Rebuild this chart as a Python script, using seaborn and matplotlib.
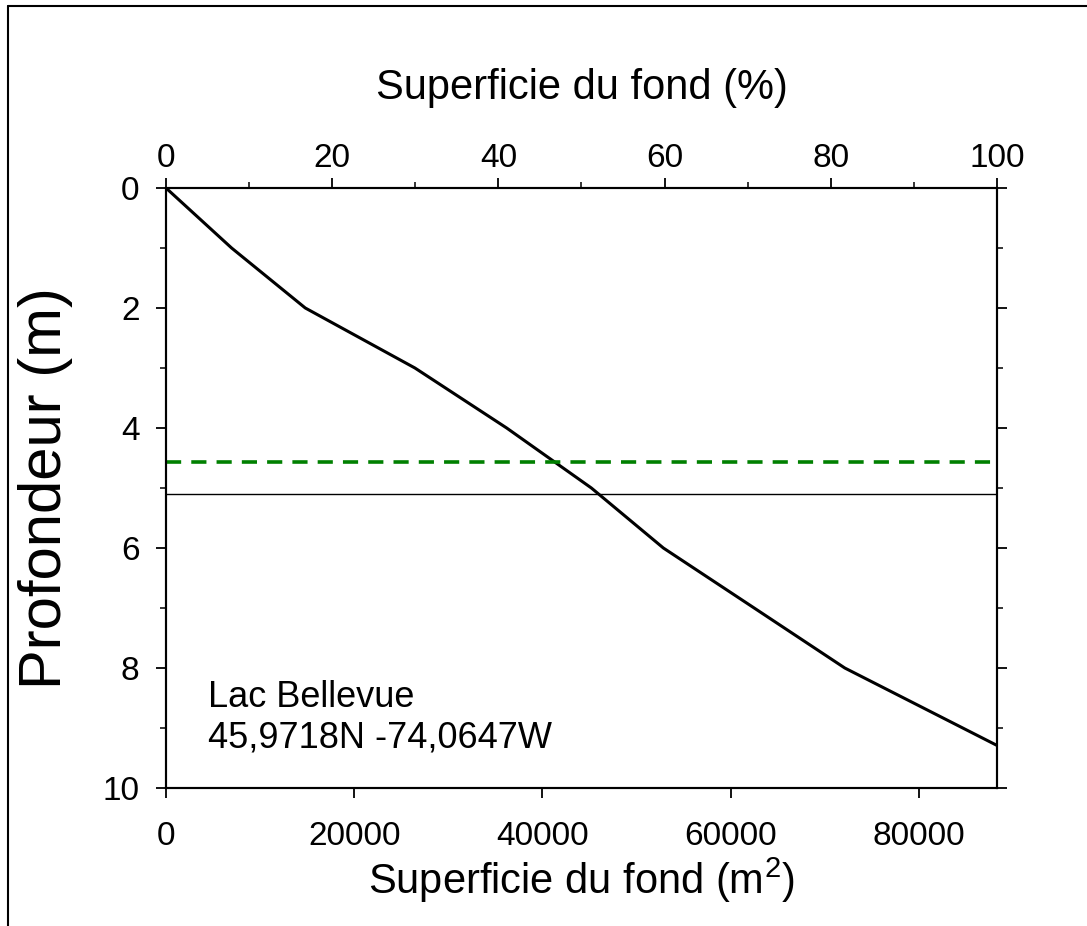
import matplotlib
matplotlib.use("Agg")
import matplotlib.pyplot as plt
from matplotlib.lines import Line2D
from matplotlib.ticker import MultipleLocator
import pandas as pd
import seaborn as sns

# profil hypsometrique du lac
superficie_m2 = [0, 6970, 14800, 26450, 36200, 45200, 52850, 62500, 72130, 88300]
profondeur_m = [0, 1, 2, 3, 4, 5, 6, 7, 8, 9.29]
superficie_max = 88300

ligne_verte = 4.57
ligne_noire = 5.1

lac_nom = "Lac Bellevue"
lac_coord = "45,9718N -74,0647W"

df = pd.DataFrame({"superficie": superficie_m2, "profondeur": profondeur_m})

sns.set_style("ticks")
plt.rcParams["font.family"] = ["Liberation Sans", "DejaVu Sans"]
plt.rcParams["mathtext.fontset"] = "custom"
plt.rcParams["mathtext.rm"] = "Liberation Sans"
for k in ["text.color", "axes.labelcolor", "xtick.color", "ytick.color", "axes.edgecolor"]:
    plt.rcParams[k] = "black"

fig = plt.figure(figsize=(10.87, 9.26), dpi=100)
ax = fig.add_axes([0.1527, 0.149, 0.7645, 0.648])

sns.lineplot(data=df, x="superficie", y="profondeur", color="black",
             linewidth=2.2, ax=ax, sort=False)
ax.axhline(ligne_verte, color="#008000", linewidth=2.6, linestyle=(0, (4.2, 2.8)))
ax.axhline(ligne_noire, color="black", linewidth=1.0)

ax.set_xlim(0, superficie_max)
ax.set_ylim(10, 0)
ax.xaxis.set_major_locator(MultipleLocator(20000))
ax.yaxis.set_major_locator(MultipleLocator(2))
ax.yaxis.set_minor_locator(MultipleLocator(1))
ax.tick_params(axis="both", which="major", labelsize=24, length=7, width=1.3,
               direction="out")
ax.tick_params(axis="y", which="minor", length=4.3, width=1.1, direction="out")
ax.tick_params(axis="x", pad=17)
ax.tick_params(axis="y", pad=12, right=True, which="both")

for s in ax.spines.values():
    s.set_linewidth(1.5)

ax.set_xlabel("Superficie du fond (m$^2$)", fontsize=30, labelpad=2)
ax.set_ylabel("Profondeur (m)", fontsize=43, labelpad=21)

ax2 = ax.twiny()
ax2.set_xlim(0, 100)
ax2.xaxis.set_major_locator(MultipleLocator(20))
ax2.xaxis.set_minor_locator(MultipleLocator(10))
ax2.tick_params(axis="x", which="major", labelsize=24, length=7, width=1.3, pad=3)
ax2.tick_params(axis="x", which="minor", length=4.3, width=1.1)
ax2.set_xlabel("Superficie du fond (%)", fontsize=30, labelpad=32)
for s in ax2.spines.values():
    s.set_linewidth(1.5)

ax.text(0.0505, 0.135, lac_nom, transform=ax.transAxes, fontsize=26, va="baseline")
ax.text(0.0505, 0.068, lac_coord, transform=ax.transAxes, fontsize=26, va="baseline")

# cadre exterieur
fig.add_artist(Line2D([8 / 1087, 8 / 1087], [0, 1 - 6 / 926], color="black",
                      linewidth=1.5, transform=fig.transFigure))
fig.add_artist(Line2D([8 / 1087, 1], [1 - 6 / 926, 1 - 6 / 926], color="black",
                      linewidth=1.5, transform=fig.transFigure))

fig.savefig("out.png", dpi=100)
